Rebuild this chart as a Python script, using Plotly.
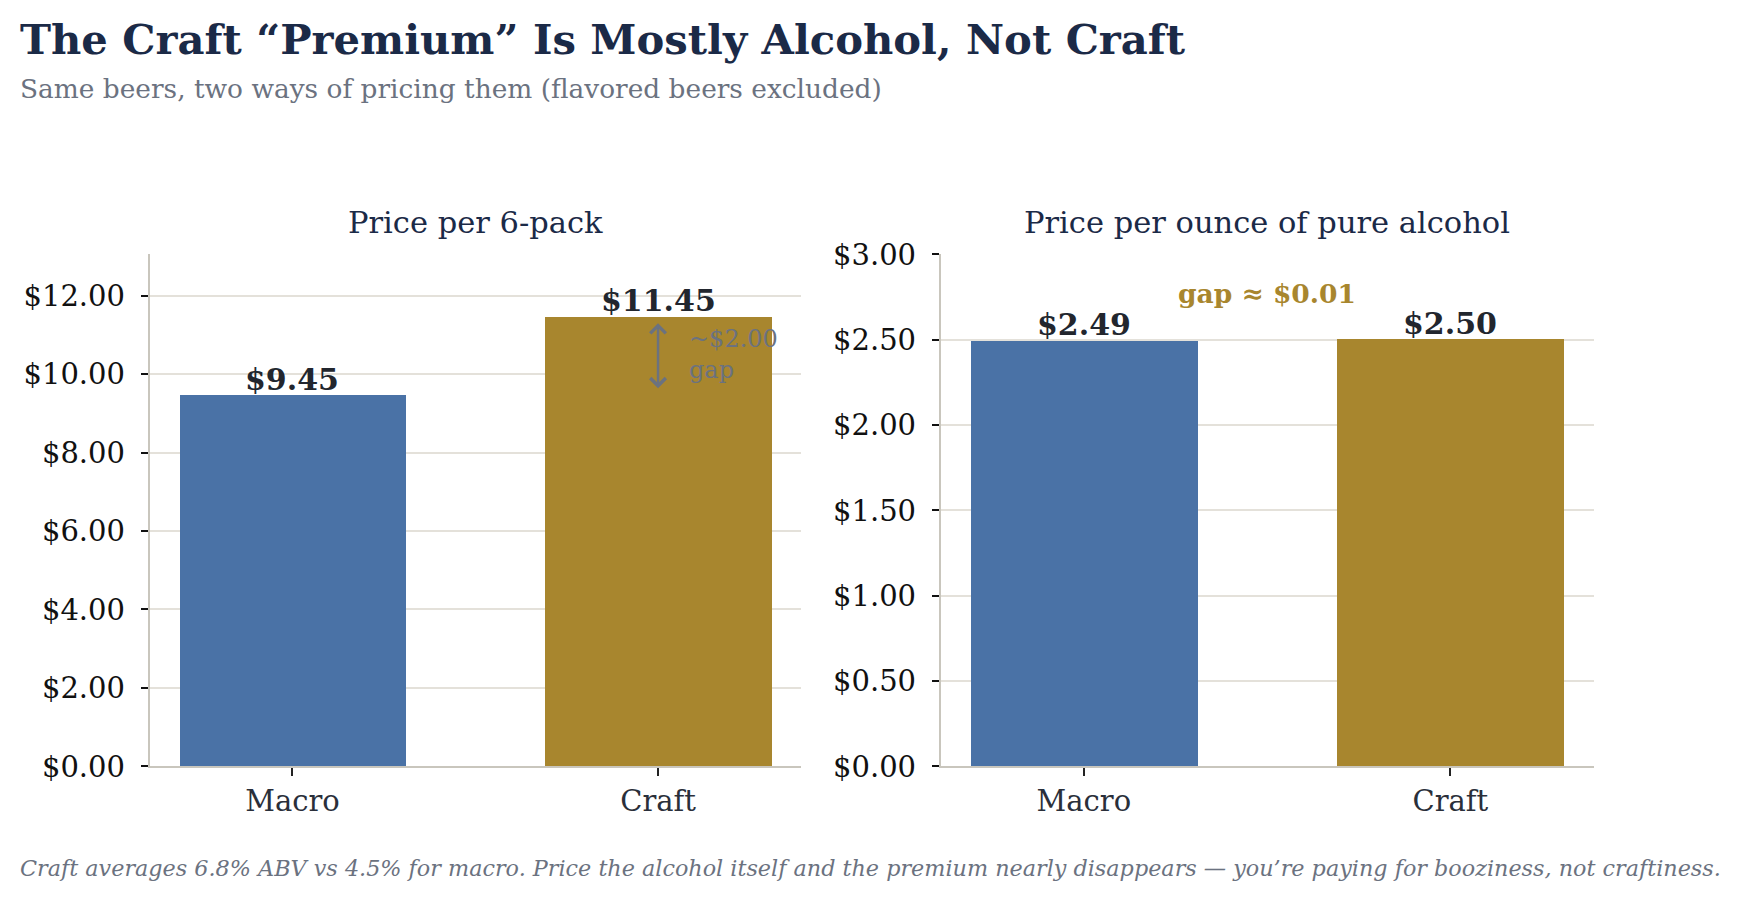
import plotly.graph_objects as go
from plotly.subplots import make_subplots

# data
categories = ["Macro", "Craft"]
price_6pack = [9.45, 11.45]
price_per_oz_alcohol = [2.49, 2.50]
bar_colors = ["#4A72A6", "#A8862E"]

left_ticks = [0, 2, 4, 6, 8, 10, 12]
right_ticks = [0, 0.5, 1.0, 1.5, 2.0, 2.5, 3.0]

title = "The Craft “Premium” Is Mostly Alcohol, Not Craft"
subtitle = "Same beers, two ways of pricing them (flavored beers excluded)"
footnote = ("Craft averages 6.8% ABV vs 4.5% for macro. Price the alcohol itself and the premium "
            "nearly disappears — you’re paying for booziness, not craftiness.")

FONT = "DejaVu Serif"
NAVY = "#1B2A47"
GRAY = "#6B7280"
GOLD = "#A8862E"
GRID = "#E4E1DA"
SPINE = "#C9C6BD"

LEFT_DOM = [0.0814, 0.4560]
RIGHT_DOM = [0.5363, 0.9118]
Y_DOM = [0.1419, 0.7345]

fig = make_subplots(rows=1, cols=2)

fig.add_trace(go.Bar(
    x=[0, 1], y=price_6pack, width=0.62, marker=dict(color=bar_colors, line=dict(width=0)),
    showlegend=False, hoverinfo="skip"), row=1, col=1)

fig.add_trace(go.Bar(
    x=[0, 1], y=price_per_oz_alcohol, width=0.62, marker=dict(color=bar_colors, line=dict(width=0)),
    showlegend=False, hoverinfo="skip"), row=1, col=2)

xcommon = dict(
    range=[-0.391, 1.391], tickmode="array", tickvals=[0, 1], ticktext=categories,
    showline=True, linecolor=SPINE, linewidth=2, showgrid=False, zeroline=False,
    ticks="outside", ticklen=8, tickwidth=2, tickcolor="#222222",
    tickfont=dict(family=FONT, size=29, color="#2A2F3A"), ticklabelstandoff=0,
)
ycommon = dict(
    showline=True, linecolor=SPINE, linewidth=1.5, showgrid=True, gridcolor=GRID, gridwidth=1.5,
    zeroline=False, ticks="outside", ticklen=7, tickwidth=2, tickcolor="#111111",
    tickfont=dict(family=FONT, size=29, color="#111111"), ticklabelstandoff=10,
)

fig.update_xaxes(domain=LEFT_DOM, **xcommon, row=1, col=1)
fig.update_xaxes(domain=RIGHT_DOM, **xcommon, row=1, col=2)
fig.update_yaxes(domain=Y_DOM, range=[0, 13.05], tickvals=left_ticks,
                 ticktext=[f"${v:.2f}" for v in left_ticks], **ycommon, row=1, col=1)
fig.update_yaxes(domain=Y_DOM, range=[0, 3.0], tickvals=right_ticks,
                 ticktext=[f"${v:.2f}" for v in right_ticks], **ycommon, row=1, col=2)

annotations = [
    dict(text=f"<b>{title}</b>", x=0.00575, y=0.983, xref="paper", yref="paper",
         xanchor="left", yanchor="middle", showarrow=False,
         font=dict(family=FONT, size=41.7, color=NAVY)),
    dict(text=subtitle, x=0.00575, y=0.9268, xref="paper", yref="paper",
         xanchor="left", yanchor="middle", showarrow=False,
         font=dict(family=FONT, size=26.4, color=GRAY)),
    dict(text="Price per 6-pack", x=sum(LEFT_DOM) / 2, y=0.7712, xref="paper", yref="paper",
         xanchor="center", yanchor="middle", showarrow=False,
         font=dict(family=FONT, size=30.5, color=NAVY)),
    dict(text="Price per ounce of pure alcohol", x=sum(RIGHT_DOM) / 2, y=0.7712,
         xref="paper", yref="paper", xanchor="center", yanchor="middle", showarrow=False,
         font=dict(family=FONT, size=30.5, color=NAVY)),
    dict(text=f"<i>{footnote}</i>", x=0.00575, y=0.0238, xref="paper", yref="paper",
         xanchor="left", yanchor="middle", showarrow=False,
         font=dict(family=FONT, size=22.3, color=GRAY)),
    # double arrow showing the 6-pack gap
    dict(x=1, y=price_6pack[1], ax=1, ay=price_6pack[0], xref="x", yref="y", axref="x", ayref="y",
         text="", showarrow=True, arrowside="end+start", arrowhead=4, startarrowhead=4,
         arrowsize=1.2, startarrowsize=1.2, arrowwidth=2.5, arrowcolor=GRAY,
         standoff=6, startstandoff=6),
    dict(text="~$2.00<br>gap", x=1.08, y=10.5, xref="x", yref="y",
         xanchor="left", yanchor="middle", align="left", showarrow=False,
         font=dict(family=FONT, size=24, color=GRAY)),
    dict(text="<b>gap ≈ $0.01</b>", x=0.5, y=2.77, xref="x2", yref="y2",
         xanchor="center", yanchor="middle", showarrow=False,
         font=dict(family=FONT, size=26.5, color=GOLD)),
]

# value labels sitting on top of each bar
for xref, yref, vals in [("x", "y", price_6pack), ("x2", "y2", price_per_oz_alcohol)]:
    for i, v in enumerate(vals):
        annotations.append(dict(
            text=f"<b>${v:.2f}</b>", x=i, y=v, xref=xref, yref=yref,
            xanchor="center", yanchor="bottom", yshift=-3, showarrow=False,
            font=dict(family=FONT, size=30, color="#22262E")))

fig.update_layout(
    width=1739, height=898, margin=dict(l=0, r=0, t=0, b=0),
    paper_bgcolor="white", plot_bgcolor="white",
    bargap=0, annotations=annotations, font=dict(family=FONT),
)

fig.write_html("out.html")
